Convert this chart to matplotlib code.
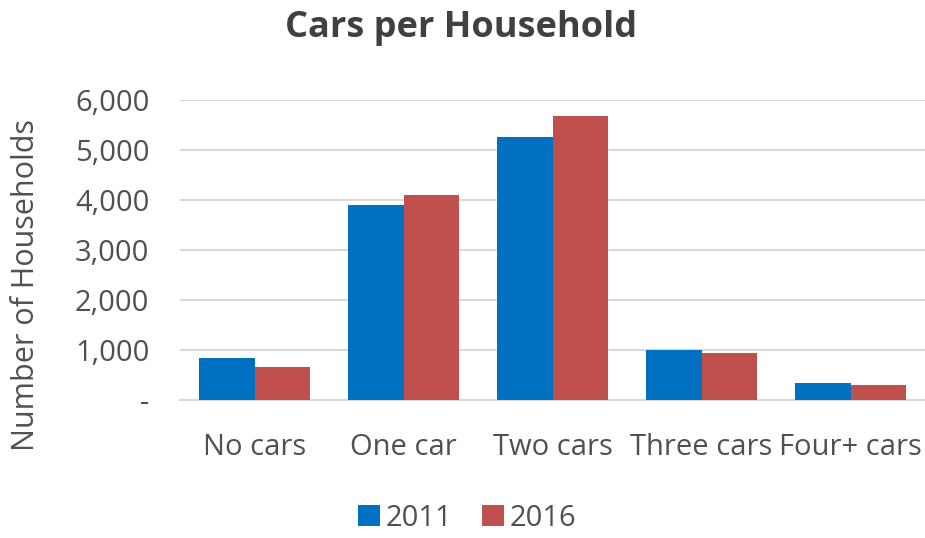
import matplotlib
matplotlib.use("Agg")
import matplotlib.pyplot as plt
import numpy as np
from matplotlib.ticker import FuncFormatter

categories = ["No cars", "One car", "Two cars", "Three cars", "Four+ cars"]
series_names = ["2011", "2016"]
values_2011 = [835, 3900, 5265, 1005, 345]
values_2016 = [665, 4110, 5680, 950, 295]
yticks = [0, 1000, 2000, 3000, 4000, 5000, 6000]

colors = ["#0070C0", "#C0504D"]
text_color = "#505050"
plt.rcParams['font.family'] = ['Open Sans', 'DejaVu Sans']

fig = plt.figure(figsize=(9.25, 5.38), dpi=100)
ax = fig.add_axes([0.1946, 0.2565, 0.8054, 0.5575])

x = np.arange(len(categories))
w = 0.373
ax.bar(x - w/2, values_2011, width=w, color=colors[0], label=series_names[0], zorder=3)
ax.bar(x + w/2, values_2016, width=w, color=colors[1], label=series_names[1], zorder=3)

ax.set_xlim(-0.5, len(categories) - 0.5)
ax.set_ylim(0, 6000)
ax.set_yticks(yticks)
ax.yaxis.set_major_formatter(FuncFormatter(lambda v, p: "-" if v == 0 else f"{int(v):,}"))
ax.grid(axis='y', color='#D9D9D9', linewidth=1.5, zorder=0)
ax.set_xticks(x)
ax.set_xticklabels(categories)
for s in ['top', 'right', 'left']:
    ax.spines[s].set_visible(False)
ax.spines['bottom'].set_color('#D9D9D9')
ax.spines['bottom'].set_linewidth(1.5)
ax.tick_params(axis='both', length=0, labelsize=21, colors=text_color)
ax.tick_params(axis='y', pad=22)
ax.tick_params(axis='x', pad=24)

ax.set_ylabel("Number of Households", fontsize=22, color=text_color)
ax.yaxis.set_label_coords(-0.187, 0.385)
fig.text(0.498, 0.948, "Cars per Household", ha='center', va='center',
         fontsize=26, fontweight='bold', color="#404040")

fig.legend(loc='center', bbox_to_anchor=(0.505, 0.037), ncol=2, frameon=False,
           fontsize=21, labelcolor=text_color, handlelength=0.75, handleheight=0.75,
           columnspacing=1.0, handletextpad=0.2)

fig.savefig("out.png", dpi=100)
